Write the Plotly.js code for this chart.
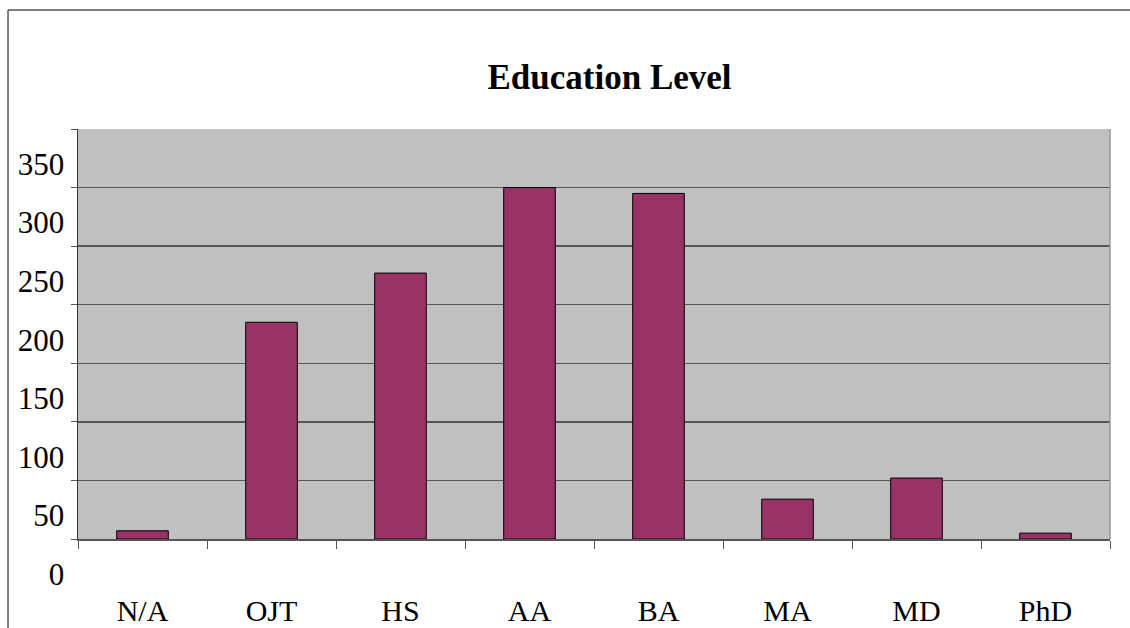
<!DOCTYPE html>
<html>
<head>
<meta charset="utf-8">
<script src="https://cdn.plot.ly/plotly-3.0.1.min.js"></script>
<style>html,body{margin:0;padding:0;background:#fff;}#chart{width:1130px;height:628px;}</style>
</head>
<body>
<div id="chart"></div>
<script>
const categories = ["N/A", "OJT", "HS", "AA", "BA", "MA", "MD", "PhD"];
const counts = [7, 185, 227, 300, 295, 34, 52, 5];
const yTickValues = [0, 50, 100, 150, 200, 250, 300, 350];
const yTickLabels = ["0", "50", "100", "150", "200", "250", "300", "350"];
const chartTitle = "Education Level";

const serif = "'Liberation Serif', 'Times New Roman', serif";

const trace = {
  type: "bar",
  x: categories,
  y: counts,
  marker: { color: "#993366", line: { color: "#000000", width: 1 } },
  hoverinfo: "x+y"
};

const layout = {
  width: 1130,
  height: 628,
  margin: { l: 78, r: 20, t: 129, b: 89, pad: 0 },
  paper_bgcolor: "#ffffff",
  plot_bgcolor: "#C0C0C0",
  showlegend: false,
  bargap: 0.6,
  title: {
    text: "<b>" + chartTitle + "</b>",
    font: { family: serif, size: 35, color: "#000000" },
    xref: "container", x: 0.5394, xanchor: "center",
    yref: "container", y: 0.878, yanchor: "middle"
  },
  xaxis: {
    type: "category",
    tickson: "boundaries",
    ticks: "outside",
    ticklen: 8,
    tickcolor: "#555555",
    tickwidth: 1,
    showgrid: false,
    showline: true,
    linecolor: "#555555",
    linewidth: 1.5,
    ticklabelstandoff: 44,
    tickfont: { family: serif, size: 30, color: "#000000" },
    fixedrange: true
  },
  yaxis: {
    range: [0, 350],
    tickvals: yTickValues,
    ticktext: yTickLabels,
    ticks: "outside",
    ticklen: 6,
    tickcolor: "#555555",
    showgrid: true,
    gridcolor: "#555555",
    gridwidth: 1.5,
    zeroline: false,
    showline: true,
    linecolor: "#333333",
    linewidth: 1.5,
    ticklabelshift: 35,
    tickfont: { family: serif, size: 31, color: "#000000" },
    fixedrange: true
  },
  shapes: [
    { type: "line", xref: "paper", yref: "paper", x0: 1, x1: 1, y0: 0, y1: 1,
      line: { color: "#999999", width: 1.5 } },
    { type: "line", xref: "paper", yref: "paper", x0: -0.0678, x1: -0.0678, y0: 1.2902, y1: -0.23,
      line: { color: "#555555", width: 1.5 } },
    { type: "line", xref: "paper", yref: "paper", x0: -0.0678, x1: 1.03, y0: 1.2902, y1: 1.2902,
      line: { color: "#555555", width: 1.5 } }
  ]
};

Plotly.newPlot("chart", [trace], layout, { displayModeBar: false, staticPlot: true });
</script>
</body>
</html>
